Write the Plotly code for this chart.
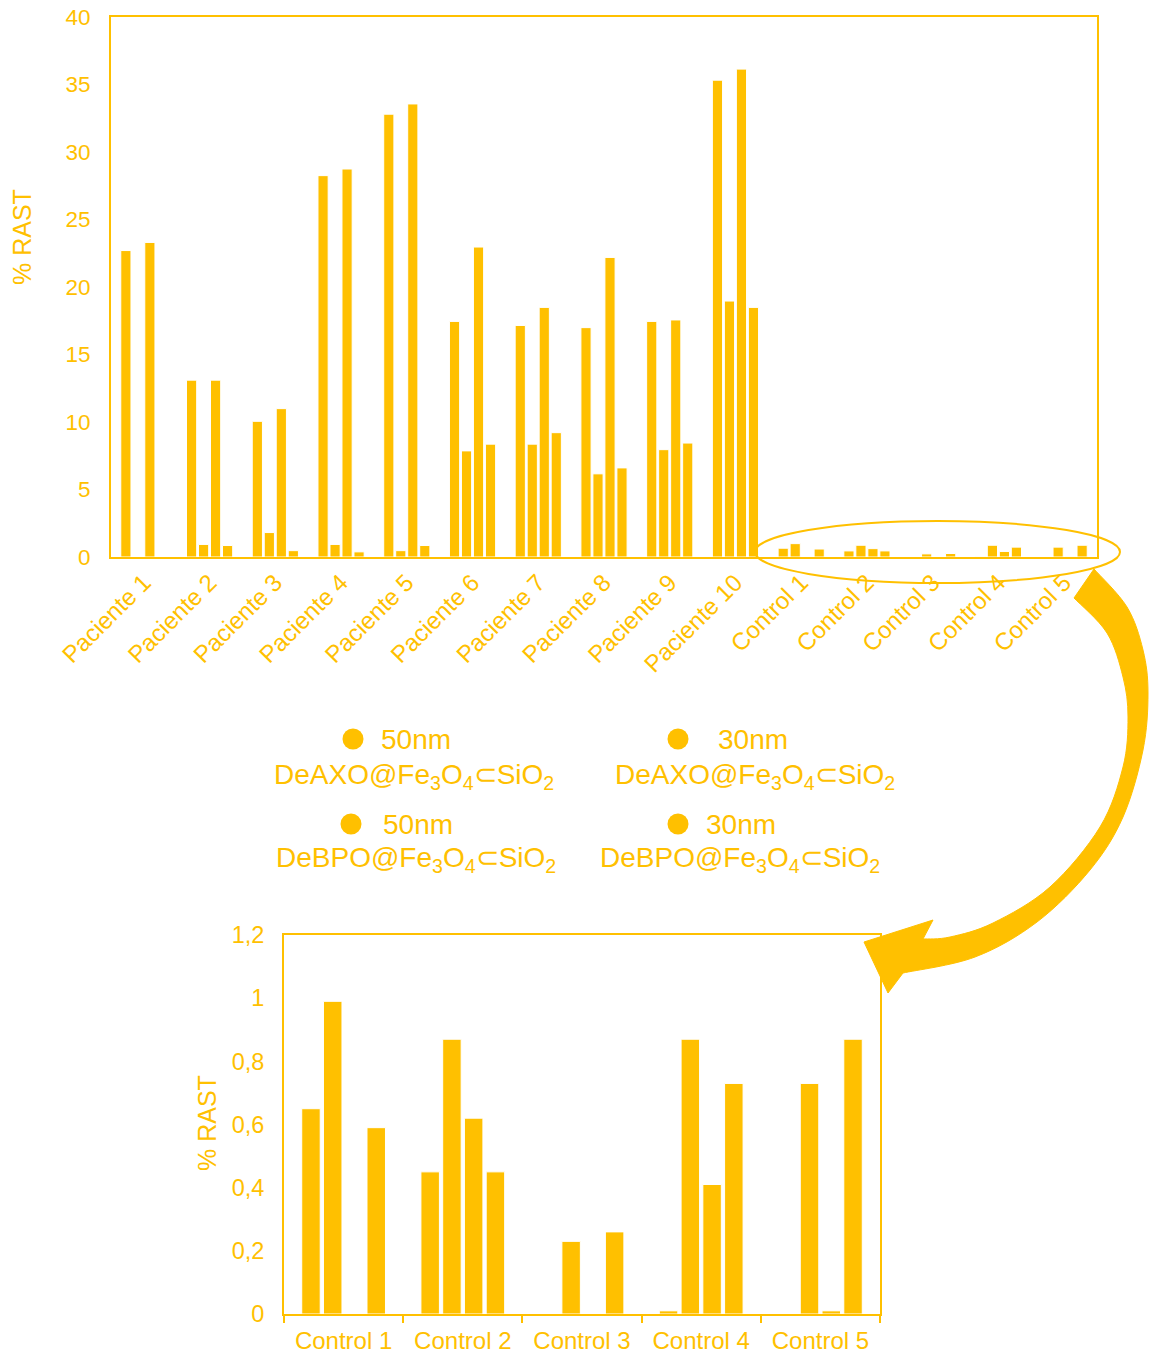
import plotly.graph_objects as go

# ---- data -------------------------------------------------------------
categories = ["Paciente 1", "Paciente 2", "Paciente 3", "Paciente 4", "Paciente 5",
              "Paciente 6", "Paciente 7", "Paciente 8", "Paciente 9", "Paciente 10",
              "Control 1", "Control 2", "Control 3", "Control 4", "Control 5"]
controls = categories[10:]

series_size = ["50nm", "30nm", "50nm", "30nm"]
series_label = ["DeAXO@Fe<sub>3</sub>O<sub>4</sub>⊂SiO<sub>2</sub>",
                "DeAXO@Fe<sub>3</sub>O<sub>4</sub>⊂SiO<sub>2</sub>",
                "DeBPO@Fe<sub>3</sub>O<sub>4</sub>⊂SiO<sub>2</sub>",
                "DeBPO@Fe<sub>3</sub>O<sub>4</sub>⊂SiO<sub>2</sub>"]

deaxo_50 = [22.7, 13.1, 10.05, 28.25, 32.8, 17.45, 17.15, 16.99, 17.45, 35.32,
            0.65, 0.45, 0.0, 0.01, 0.0]
deaxo_30 = [0.0, 0.93, 1.81, 0.93, 0.47, 7.86, 8.36, 6.16, 7.95, 18.96,
            0.99, 0.87, 0.23, 0.87, 0.73]
debpo_50 = [23.3, 13.1, 10.99, 28.74, 33.56, 22.96, 18.49, 22.19, 17.56, 36.14,
            0.0, 0.62, 0.0, 0.41, 0.01]
debpo_30 = [0.0, 0.85, 0.47, 0.38, 0.85, 8.36, 9.21, 6.6, 8.44, 18.49,
            0.59, 0.45, 0.26, 0.73, 0.87]
series_values = [deaxo_50, deaxo_30, debpo_50, debpo_30]

y_title = "% RAST"
top_ticks = [0, 5, 10, 15, 20, 25, 30, 35, 40]
bottom_ticks = [0, 0.2, 0.4, 0.6, 0.8, 1.0, 1.2]

# ---- styling ----------------------------------------------------------
GOLD = "#FFC000"
FONT = "Liberation Sans, Arial, sans-serif"
W, H = 1149, 1356


def px_x(v):
    return v / W


def px_y(v):
    return 1 - v / H


fig = go.Figure()

for name, lab, vals in zip(series_size, series_label, series_values):
    fig.add_trace(go.Bar(
        x=categories, y=vals, name=f"{name} {lab}",
        marker=dict(color=GOLD, line=dict(color="white", width=1)),
        xaxis="x", yaxis="y", showlegend=False,
    ))
    fig.add_trace(go.Bar(
        x=controls, y=vals[10:], name=f"{name} {lab}",
        marker=dict(color=GOLD, line=dict(color="white", width=1)),
        xaxis="x2", yaxis="y2", showlegend=False,
    ))

# empty trace that anchors a full-page pixel frame for the decorations
fig.add_trace(go.Scatter(x=[], y=[], xaxis="x3", yaxis="y3",
                         showlegend=False, hoverinfo="skip"))

axis_common = dict(showline=True, linecolor=GOLD, linewidth=2, mirror=True,
                   showgrid=False, zeroline=False, automargin=False)

fig.update_layout(
    width=W, height=H,
    margin=dict(l=0, r=0, t=0, b=0, autoexpand=False),
    paper_bgcolor="white", plot_bgcolor="rgba(0,0,0,0)",
    font=dict(family=FONT, color=GOLD),
    separators=",.",
    barmode="group", bargap=0.27, bargroupgap=0.15,
    xaxis=dict(domain=[px_x(111), px_x(1097)], anchor="y", tickangle=-45,
               tickfont=dict(size=24, color=GOLD), ticks="", **axis_common),
    yaxis=dict(domain=[px_y(557), px_y(17)], anchor="x", range=[0, 40],
               tickvals=top_ticks, tickfont=dict(size=22.5, color=GOLD),
               ticks="", ticklabelstandoff=14, **axis_common),
    xaxis2=dict(domain=[px_x(284), px_x(880)], anchor="y2",
                tickfont=dict(size=24, color=GOLD), ticks="outside",
                tickson="boundaries", ticklen=7, tickwidth=2, tickcolor=GOLD,
                ticklabelstandoff=4, **axis_common),
    yaxis2=dict(domain=[px_y(1314), px_y(935)], anchor="x2", range=[0, 1.2],
                tickvals=bottom_ticks, tickfont=dict(size=23.5, color=GOLD),
                ticks="", ticklabelstandoff=13, **axis_common),
    xaxis3=dict(domain=[0, 1], range=[0, W], visible=False, anchor="y3",
                fixedrange=True, automargin=False),
    yaxis3=dict(domain=[0, 1], range=[H, 0], visible=False, anchor="x3",
                fixedrange=True, automargin=False),
)

# vertical axis titles
for tx, ty in [(22, 237), (207, 1123)]:
    fig.add_annotation(xref="x3", yref="y3", x=tx, y=ty, text=y_title,
                       textangle=-90, showarrow=False,
                       xanchor="center", yanchor="middle",
                       font=dict(size=25, color=GOLD, family=FONT))


def smooth(points):
    """Catmull-Rom spline through points, returned as SVG cubic segments."""
    segs = []
    for i in range(len(points) - 1):
        p0 = points[i - 1] if i > 0 else points[i]
        p1 = points[i]
        p2 = points[i + 1]
        p3 = points[i + 2] if i + 2 < len(points) else points[i + 1]
        c1 = (p1[0] + (p2[0] - p0[0]) / 6, p1[1] + (p2[1] - p0[1]) / 6)
        c2 = (p2[0] - (p3[0] - p1[0]) / 6, p2[1] - (p3[1] - p1[1]) / 6)
        segs.append(f"C {c1[0]:.1f},{c1[1]:.1f} {c2[0]:.1f},{c2[1]:.1f} {p2[0]:.1f},{p2[1]:.1f}")
    return " ".join(segs)


# ellipse highlighting the control group
fig.add_shape(type="circle", xref="x3", yref="y3", x0=755, x1=1120, y0=521, y1=583,
              line=dict(color=GOLD, width=2), layer="above")

# curved arrow leading to the enlarged control chart
outer = [(1094, 569), (1127, 607), (1143, 650), (1148, 693), (1143, 750),
         (1123, 817), (1090, 870), (1037, 922), (975, 957), (903, 973)]
inner = [(923, 939), (950, 937), (993, 923), (1050, 887), (1100, 827),
         (1123, 767), (1128, 717), (1123, 677), (1107, 633), (1074, 598)]
path = (f"M {outer[0][0]},{outer[0][1]} " + smooth(outer)
        + " L 888,993 L 864,942 L 933,920 "
        + f"L {inner[0][0]},{inner[0][1]} " + smooth(inner) + " Z")
fig.add_shape(type="path", xref="x3", yref="y3", path=path,
              fillcolor=GOLD, line=dict(color=GOLD, width=1), layer="above")

# legend block
legend_pos = [  # (marker x, marker y, size text x, label centre x, label y)
    (353, 739, 379, 414, 776),
    (678, 739, 716, 755, 776),
    (351, 824, 381, 416, 859),
    (678, 824, 704, 740, 859),
]
for (mx, my, tx, cx, ly), size, lab in zip(legend_pos, series_size, series_label):
    fig.add_shape(type="circle", xref="x3", yref="y3",
                  x0=mx - 10.5, x1=mx + 10.5, y0=my - 10.5, y1=my + 10.5,
                  fillcolor=GOLD, line=dict(color=GOLD, width=0), layer="above")
    fig.add_annotation(xref="x3", yref="y3", x=tx, y=my, text=size,
                       showarrow=False, xanchor="left", yanchor="middle",
                       font=dict(size=28, color=GOLD, family=FONT))
    fig.add_annotation(xref="x3", yref="y3", x=cx, y=ly, text=lab,
                       showarrow=False, xanchor="center", yanchor="middle",
                       font=dict(size=28, color=GOLD, family=FONT))

fig.write_html("out.html")
